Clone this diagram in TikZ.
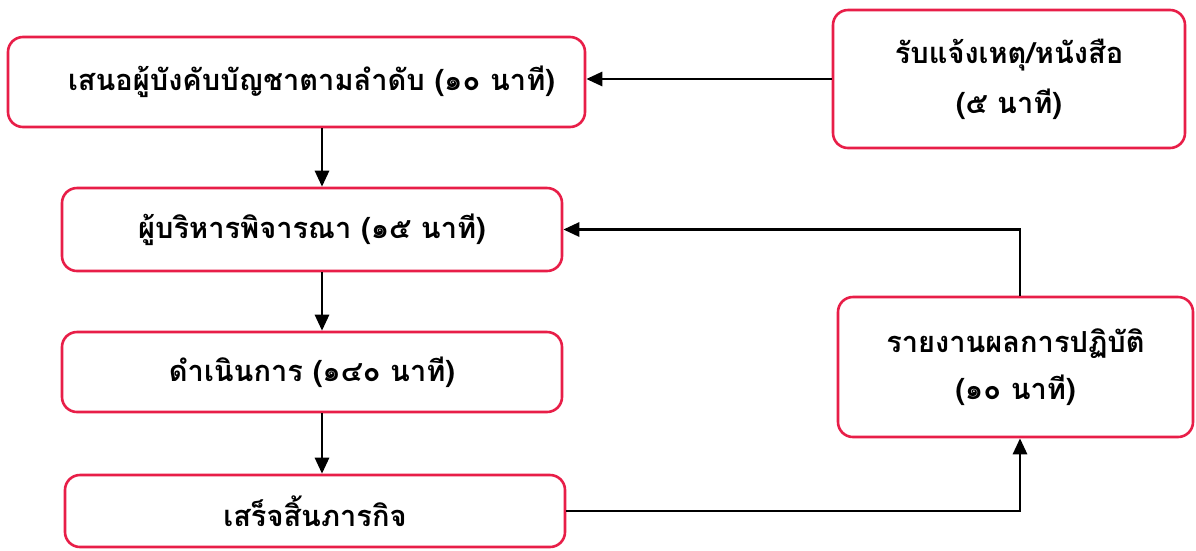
\documentclass[tikz,border=0pt]{standalone}
\usepackage{fontspec}
\newfontfamily\thaifont[Script=Thai]{Loma}
\usetikzlibrary{arrows.meta}
\definecolor{boxred}{RGB}{232,30,72}
\tikzset{
  stepbox/.style={draw=boxred, line width=2.6pt, rounded corners=15pt, fill=white,
    align=center, font=\thaifont\bfseries\fontsize{29}{50}\selectfont, inner sep=0pt},
  arr/.style={draw=black, line width=2.8pt, -{Triangle[length=16pt,width=14pt]}}
}
\begin{document}
\begin{tikzpicture}[x=1pt,y=-1pt]
\useasboundingbox (0,0) rectangle (1196,550);
\node[stepbox, minimum width=577pt, minimum height=90pt] (b1) at (296.5,82) {\hspace*{30pt}เสนอผู้บังคับบัญชาตามลำดับ (๑๐ นาที)};
\node[stepbox, minimum width=352pt, minimum height=138pt] (b2) at (1009,79) {รับแจ้งเหตุ/หนังสือ\\(๕ นาที)};
\node[stepbox, minimum width=500pt, minimum height=83pt] (b3) at (312,229.5) {ผู้บริหารพิจารณา (๑๕ นาที)};
\node[stepbox, minimum width=500pt, minimum height=80pt] (b4) at (312,372) {ดำเนินการ (๑๔๐ นาที)};
\node[stepbox, minimum width=500pt, minimum height=72pt] (b5) at (315,511) {เสร็จสิ้นภารกิจ};
\node[stepbox, minimum width=355pt, minimum height=140pt,
  font=\thaifont\bfseries\fontsize{29}{47}\selectfont] (b6) at (1015.5,367) {รายงานผลการปฏิบัติ\\(๑๐ นาที)};
\coordinate (cl) at (322,0);
\coordinate (cr) at (1020,0);
\draw[arr] (b2.west) -- (b2.west -| b1.east);
\draw[arr] (b1.south -| cl) -- (b3.north -| cl);
\draw[arr] (b3.south -| cl) -- (b4.north -| cl);
\draw[arr] (b4.south -| cl) -- (b5.north -| cl);
\draw[arr] (b5.east) -| (b6.south -| cr);
\draw[arr] (b6.north -| cr) |- (b3.east);
\end{tikzpicture}
\end{document}
